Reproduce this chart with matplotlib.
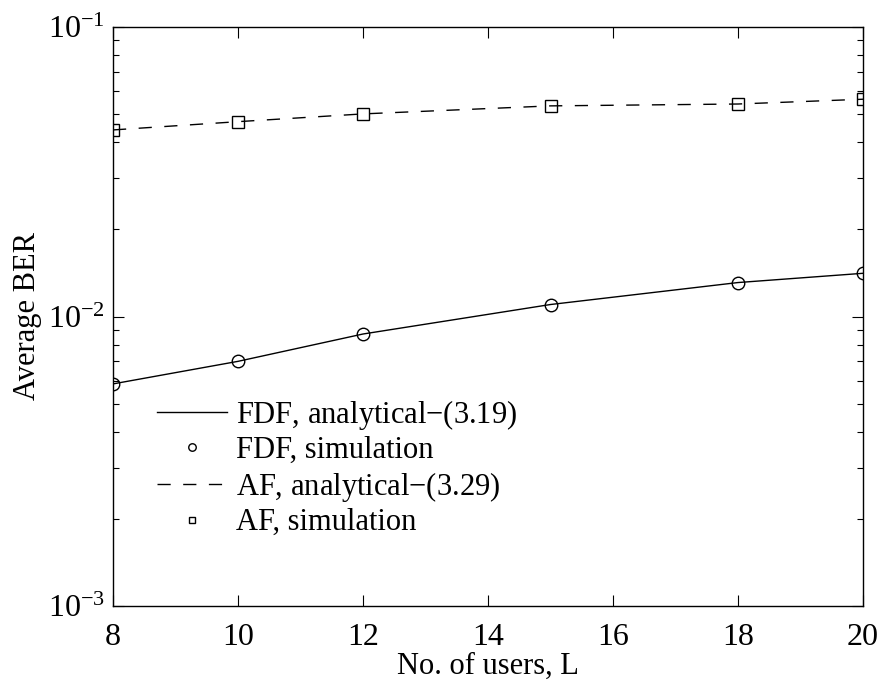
import matplotlib.pyplot as plt
from matplotlib.ticker import LogLocator, NullFormatter

plt.rcParams['font.family'] = ['Liberation Serif', 'DejaVu Serif']
plt.rcParams['mathtext.fontset'] = 'custom'
plt.rcParams['mathtext.rm'] = 'Liberation Serif'
plt.rcParams['mathtext.it'] = 'Liberation Serif:italic'

# number of users
users = [8, 10, 12, 15, 18, 20]

# average BER, fixed decode-and-forward
fdf_analytical = [5.85e-3, 7.0e-3, 8.7e-3, 1.10e-2, 1.31e-2, 1.41e-2]
fdf_simulation = [5.85e-3, 7.0e-3, 8.7e-3, 1.10e-2, 1.31e-2, 1.41e-2]

# average BER, amplify-and-forward
af_analytical = [4.41e-2, 4.71e-2, 5.01e-2, 5.34e-2, 5.42e-2, 5.63e-2]
af_simulation = [4.41e-2, 4.71e-2, 5.01e-2, 5.34e-2, 5.42e-2, 5.63e-2]

fig = plt.figure(figsize=(8.78, 6.84), dpi=100)
ax = fig.add_axes([113 / 878, 1 - 606 / 684, 750 / 878, 579 / 684])

ax.plot(users, fdf_analytical, 'k-', lw=1.0, label='FDF, analytical$-$(3.19)')
ax.plot(users, fdf_simulation, 'ko', mfc='none', ms=9, mew=1.0, ls='none',
        label='FDF, simulation')
ax.plot(users, af_analytical, 'k--', lw=1.0, dashes=(9.5, 9),
        label='AF, analytical$-$(3.29)')
ax.plot(users, af_simulation, 'ks', mfc='none', ms=8, mew=1.0, ls='none',
        label='AF, simulation')

ax.set_yscale('log')
ax.set_xlim(8, 20)
ax.set_ylim(1e-3, 1e-1)
ax.set_xticks([8, 10, 12, 14, 16, 18, 20])
ax.yaxis.set_major_locator(LogLocator(base=10, numticks=5))
ax.yaxis.set_minor_locator(LogLocator(base=10, subs=range(2, 10), numticks=20))
ax.yaxis.set_minor_formatter(NullFormatter())

ax.tick_params(which='both', direction='in', top=True, right=True, labelsize=23)
ax.tick_params(which='major', length=8, width=0.8, pad=6)
ax.tick_params(which='minor', length=4, width=0.8)
ax.tick_params(axis='x', pad=12)
for s in ax.spines.values():
    s.set_linewidth(1.0)

ax.set_xlabel('No. of users, L', fontsize=22, labelpad=0)
ax.set_ylabel('Average BER', fontsize=22, labelpad=4)

leg = ax.legend(loc='upper left', bbox_to_anchor=(0.058, 0.36), frameon=False,
                fontsize=22, handlelength=2.3, handletextpad=0.3,
                labelspacing=0.15, borderaxespad=0, borderpad=0,
                markerscale=0.6)

fig.savefig('out.png', dpi=100)
